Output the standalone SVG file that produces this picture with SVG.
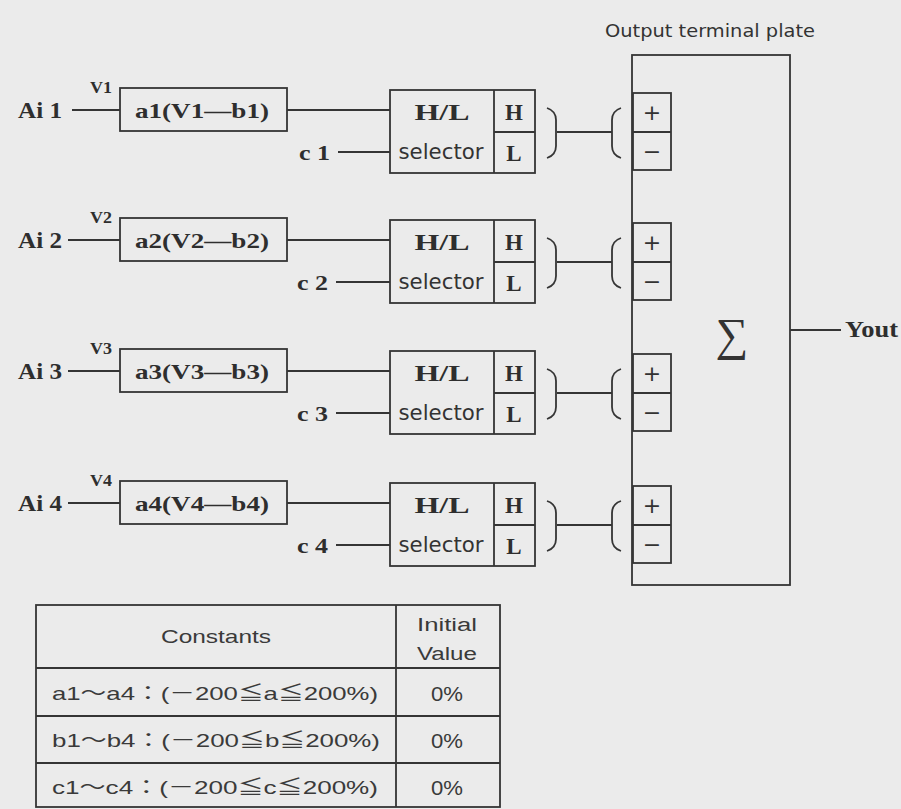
<svg xmlns="http://www.w3.org/2000/svg" width="901" height="809" viewBox="0 0 901 809">
<style>
.ln{stroke:#353535;stroke-width:1.8;fill:none}
.bx{stroke:#353535;stroke-width:1.8;fill:none}
.sr{font-family:"Liberation Serif","DejaVu Serif",serif;font-weight:bold;fill:#2e2e2e}
.ss{font-family:"DejaVu Sans","Liberation Sans",sans-serif;fill:#333}
.tb{font-family:"Liberation Sans","Noto Sans CJK JP",sans-serif;fill:#3a3a3a}
.m{text-anchor:middle}
</style>
<rect width="901" height="809" fill="#ebebeb"/>
<defs>
<g id="rowShape">
<rect class="bx" x="120" y="88" width="167" height="43"/>
<rect class="bx" x="390" y="90" width="145" height="83"/>
<line class="ln" x1="494" y1="90" x2="494" y2="173"/>
<line class="ln" x1="494" y1="132" x2="535" y2="132"/>
<rect class="bx" x="633" y="93" width="38" height="77" fill="#ebebeb"/>
<line class="ln" x1="633" y1="132" x2="671" y2="132"/>
<path class="ln" d="M547,108 Q556,111 556,120 L556,146 Q556,155 547,158"/>
<path class="ln" d="M621,108 Q612,111 612,120 L612,146 Q612,155 621,158"/>
</g>
</defs>
<g id="plate">
<text class="ss" x="605" y="37" font-size="17" textLength="210" lengthAdjust="spacingAndGlyphs">Output terminal plate</text>
<rect class="bx" x="632" y="55" width="158" height="530"/>
<text x="732" y="350" font-family="Liberation Serif,serif" font-size="46" text-anchor="middle" fill="#333">∑</text>
</g>
<g id="row1">
<use href="#rowShape"/>
<text class="sr" x="18" y="118" font-size="23" textLength="44" lengthAdjust="spacingAndGlyphs">Ai 1</text>
<text class="sr" x="90" y="93" font-size="17" textLength="22" lengthAdjust="spacingAndGlyphs">V1</text>
<text class="sr" x="135" y="118" font-size="21" textLength="134" lengthAdjust="spacingAndGlyphs">a1(V1—b1)</text>
<text class="sr m" x="442" y="120" font-size="24" textLength="55" lengthAdjust="spacingAndGlyphs">H/L</text>
<text class="ss m" x="441" y="159" font-size="21" textLength="85" lengthAdjust="spacingAndGlyphs">selector</text>
<text class="sr m" x="514" y="120" font-size="23">H</text>
<text class="sr m" x="514" y="161" font-size="23">L</text>
<text class="sr" x="299" y="160" font-size="22" textLength="31" lengthAdjust="spacingAndGlyphs">c 1</text>
<text class="ss m" x="652" y="120" font-size="22">+</text>
<text class="ss m" x="652" y="159" font-size="22">−</text>
</g>
<g id="row2" transform="translate(0,130)">
<use href="#rowShape"/>
<text class="sr" x="18" y="118" font-size="23" textLength="44" lengthAdjust="spacingAndGlyphs">Ai 2</text>
<text class="sr" x="90" y="93" font-size="17" textLength="22" lengthAdjust="spacingAndGlyphs">V2</text>
<text class="sr" x="135" y="118" font-size="21" textLength="134" lengthAdjust="spacingAndGlyphs">a2(V2—b2)</text>
<text class="sr m" x="442" y="120" font-size="24" textLength="55" lengthAdjust="spacingAndGlyphs">H/L</text>
<text class="ss m" x="441" y="159" font-size="21" textLength="85" lengthAdjust="spacingAndGlyphs">selector</text>
<text class="sr m" x="514" y="120" font-size="23">H</text>
<text class="sr m" x="514" y="161" font-size="23">L</text>
<text class="sr" x="297" y="160" font-size="22" textLength="31" lengthAdjust="spacingAndGlyphs">c 2</text>
<text class="ss m" x="652" y="120" font-size="22">+</text>
<text class="ss m" x="652" y="159" font-size="22">−</text>
</g>
<g id="row3" transform="translate(0,261)">
<use href="#rowShape"/>
<text class="sr" x="18" y="118" font-size="23" textLength="44" lengthAdjust="spacingAndGlyphs">Ai 3</text>
<text class="sr" x="90" y="93" font-size="17" textLength="22" lengthAdjust="spacingAndGlyphs">V3</text>
<text class="sr" x="135" y="118" font-size="21" textLength="134" lengthAdjust="spacingAndGlyphs">a3(V3—b3)</text>
<text class="sr m" x="442" y="120" font-size="24" textLength="55" lengthAdjust="spacingAndGlyphs">H/L</text>
<text class="ss m" x="441" y="159" font-size="21" textLength="85" lengthAdjust="spacingAndGlyphs">selector</text>
<text class="sr m" x="514" y="120" font-size="23">H</text>
<text class="sr m" x="514" y="161" font-size="23">L</text>
<text class="sr" x="297" y="160" font-size="22" textLength="31" lengthAdjust="spacingAndGlyphs">c 3</text>
<text class="ss m" x="652" y="120" font-size="22">+</text>
<text class="ss m" x="652" y="159" font-size="22">−</text>
</g>
<g id="row4" transform="translate(0,393)">
<use href="#rowShape"/>
<text class="sr" x="18" y="118" font-size="23" textLength="44" lengthAdjust="spacingAndGlyphs">Ai 4</text>
<text class="sr" x="90" y="93" font-size="17" textLength="22" lengthAdjust="spacingAndGlyphs">V4</text>
<text class="sr" x="135" y="118" font-size="21" textLength="134" lengthAdjust="spacingAndGlyphs">a4(V4—b4)</text>
<text class="sr m" x="442" y="120" font-size="24" textLength="55" lengthAdjust="spacingAndGlyphs">H/L</text>
<text class="ss m" x="441" y="159" font-size="21" textLength="85" lengthAdjust="spacingAndGlyphs">selector</text>
<text class="sr m" x="514" y="120" font-size="23">H</text>
<text class="sr m" x="514" y="161" font-size="23">L</text>
<text class="sr" x="297" y="160" font-size="22" textLength="31" lengthAdjust="spacingAndGlyphs">c 4</text>
<text class="ss m" x="652" y="120" font-size="22">+</text>
<text class="ss m" x="652" y="159" font-size="22">−</text>
</g>
<g id="yout">
<text class="sr" x="845" y="337" font-size="24" textLength="53" lengthAdjust="spacingAndGlyphs">Yout</text>
</g>
<g id="connectors">
<g id="c-row1">
<line class="ln" x1="72" y1="110" x2="120" y2="110"/>
<line class="ln" x1="287" y1="110" x2="390" y2="110"/>
<line class="ln" x1="338" y1="152" x2="390" y2="152"/>
<line class="ln" x1="557" y1="132" x2="612" y2="132"/>
</g>
<g transform="translate(0,130)">
<line class="ln" x1="68" y1="110" x2="120" y2="110"/>
<line class="ln" x1="287" y1="110" x2="390" y2="110"/>
<line class="ln" x1="336" y1="152" x2="390" y2="152"/>
<line class="ln" x1="557" y1="132" x2="612" y2="132"/>
</g>
<g transform="translate(0,261)">
<line class="ln" x1="68" y1="110" x2="120" y2="110"/>
<line class="ln" x1="287" y1="110" x2="390" y2="110"/>
<line class="ln" x1="336" y1="152" x2="390" y2="152"/>
<line class="ln" x1="557" y1="132" x2="612" y2="132"/>
</g>
<g transform="translate(0,393)">
<line class="ln" x1="68" y1="110" x2="120" y2="110"/>
<line class="ln" x1="287" y1="110" x2="390" y2="110"/>
<line class="ln" x1="336" y1="152" x2="390" y2="152"/>
<line class="ln" x1="557" y1="132" x2="612" y2="132"/>
</g>
<line class="ln" x1="790" y1="330" x2="841" y2="330"/>
</g>
<g id="table">
<rect class="bx" x="36" y="605" width="464" height="202" stroke="#555"/>
<line class="ln" x1="396" y1="605" x2="396" y2="807" stroke="#555"/>
<line class="ln" x1="36" y1="668" x2="500" y2="668" stroke="#555"/>
<line class="ln" x1="36" y1="716" x2="500" y2="716" stroke="#555"/>
<line class="ln" x1="36" y1="763" x2="500" y2="763" stroke="#555"/>
<text class="tb m" x="216" y="643" font-size="19" textLength="110" lengthAdjust="spacingAndGlyphs">Constants</text>
<text class="tb m" x="447" y="631" font-size="18" textLength="60" lengthAdjust="spacingAndGlyphs">Initial</text>
<text class="tb m" x="447" y="660" font-size="18" textLength="60" lengthAdjust="spacingAndGlyphs">Value</text>
<text class="tb" x="52" y="700" font-size="19" textLength="326" lengthAdjust="spacingAndGlyphs">a1～a4：(－200≦a≦200%)</text>
<text class="tb" x="52" y="747" font-size="19" textLength="328" lengthAdjust="spacingAndGlyphs">b1～b4：(－200≦b≦200%)</text>
<text class="tb" x="52" y="794" font-size="19" textLength="326" lengthAdjust="spacingAndGlyphs">c1～c4：(－200≦c≦200%)</text>
<text class="tb m" x="447" y="701" font-size="21" textLength="32" lengthAdjust="spacingAndGlyphs">0%</text>
<text class="tb m" x="447" y="748" font-size="21" textLength="32" lengthAdjust="spacingAndGlyphs">0%</text>
<text class="tb m" x="447" y="795" font-size="21" textLength="32" lengthAdjust="spacingAndGlyphs">0%</text>
</g>
</svg>
